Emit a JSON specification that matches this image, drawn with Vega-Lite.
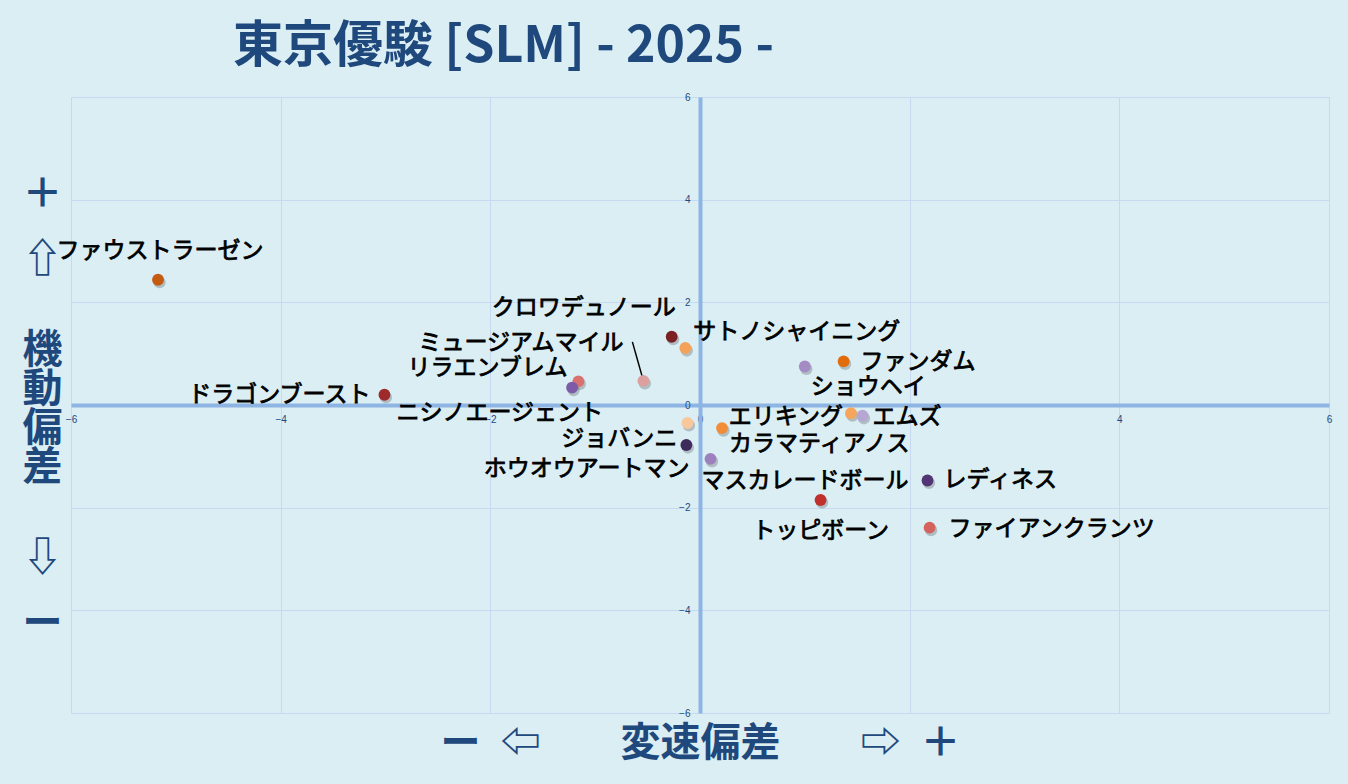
{
  "$schema": "https://vega.github.io/schema/vega-lite/v6.json",
  "width": 1258,
  "height": 616,
  "autosize": {"type": "none"},
  "padding": {"left": 71, "top": 97, "right": 19, "bottom": 71},
  "background": "#DAEEF3",
  "title": {
    "text": "東京優駿 [SLM]  - 2025 -",
    "font": "Noto Sans CJK JP",
    "fontSize": 50,
    "fontWeight": "bold",
    "color": "#1F497D",
    "anchor": "start",
    "frame": "group",
    "dx": 162,
    "offset": 20
  },
  "config": {
    "view": {"stroke": null},
    "axis": {
      "ticks": false,
      "labelFlush": false,
      "gridColor": "#C6D9F1",
      "gridWidth": 1,
      "domainColor": "#8EB4E3",
      "domainWidth": 4,
      "labelFont": "Liberation Sans",
      "labelFontSize": 10,
      "labelColor": "#1F497D",
      "titleFont": "Noto Sans CJK JP",
      "titleFontWeight": "bold",
      "titleFontSize": 40,
      "titleColor": "#1F497D"
    }
  },
  "data": {
    "values": [
      {"name": "ファウストラーゼン", "変速偏差": -5.17, "機動偏差": 2.44},
      {"name": "ドラゴンブースト", "変速偏差": -3.01, "機動偏差": 0.2},
      {"name": "クロワデュノール", "変速偏差": -0.27, "機動偏差": 1.33},
      {"name": "サトノシャイニング", "変速偏差": -0.14, "機動偏差": 1.11},
      {"name": "ミュージアムマイル", "変速偏差": -0.54, "機動偏差": 0.47},
      {"name": "リラエンブレム", "変速偏差": -1.16, "機動偏差": 0.46},
      {"name": "ニシノエージェント", "変速偏差": -1.22, "機動偏差": 0.34},
      {"name": "ホウオウアートマン", "変速偏差": -0.12, "機動偏差": -0.35},
      {"name": "ジョバンニ", "変速偏差": -0.13, "機動偏差": -0.78},
      {"name": "カラマティアノス", "変速偏差": 0.21, "機動偏差": -0.45},
      {"name": "マスカレードボール", "変速偏差": 0.1, "機動偏差": -1.05},
      {"name": "ショウヘイ", "変速偏差": 1.0, "機動偏差": 0.75},
      {"name": "ファンダム", "変速偏差": 1.37, "機動偏差": 0.85},
      {"name": "エリキング", "変速偏差": 1.44, "機動偏差": -0.16},
      {"name": "エムズ", "変速偏差": 1.55, "機動偏差": -0.21},
      {"name": "レディネス", "変速偏差": 2.17, "機動偏差": -1.47},
      {"name": "トッピボーン", "変速偏差": 1.15, "機動偏差": -1.85},
      {"name": "ファイアンクランツ", "変速偏差": 2.19, "機動偏差": -2.39}
    ]
  },
  "encoding": {
    "x": {
      "field": "変速偏差",
      "type": "quantitative",
      "scale": {"domain": [-6, 6], "nice": false, "zero": false},
      "axis": {
        "values": [-6, -4, -2, 0, 2, 4, 6],
        "offset": -308,
        "labelPadding": 9,
        "title": "ー\u2002⇦　　変速偏差　　⇨\u2002＋",
        "titleX": 629,
        "titleY": 338,
        "titleAlign": "center",
        "titleBaseline": "middle"
      }
    },
    "y": {
      "field": "機動偏差",
      "type": "quantitative",
      "scale": {"domain": [-6, 6], "nice": false, "zero": false},
      "axis": {
        "values": [-6, -4, -2, 0, 2, 4, 6],
        "offset": -629,
        "labelPadding": 10,
        "title": ["＋", "\u2800", "\u2800", "\u2800", "\u2800", "⇧", "\u2800", "\u2800", "\u2800", "\u2800", "\u2800", "\u2800", "機", "\u2800", "\u2800", "動", "\u2800", "\u2800", "偏", "\u2800", "\u2800", "差", "\u2800", "\u2800", "\u2800", "\u2800", "\u2800", "\u2800", "⇩", "\u2800", "\u2800", "\u2800", "\u2800", "ー"],
        "titleAngle": 0,
        "titleLineHeight": 13,
        "titleX": -658,
        "titleY": 77,
        "titleAlign": "center",
        "titleBaseline": "top"
      }
    }
  },
  "layer": [
    {
      "transform": [{"filter": "datum.name === 'ミュージアムマイル'"}],
      "mark": {"type": "rule", "color": "#000000", "strokeWidth": 1.5, "x2Offset": -11, "y2Offset": -39},
      "encoding": {
        "x2": {"field": "変速偏差"},
        "y2": {"field": "機動偏差"}
      }
    },
    {
      "mark": {"type": "circle", "size": 150, "color": "#000000", "opacity": 0.2, "xOffset": 1.5, "yOffset": 2.5}
    },
    {
      "mark": {"type": "circle", "size": 140, "opacity": 1},
      "encoding": {
        "color": {
          "field": "name",
          "type": "nominal",
          "legend": null,
          "scale": {
            "domain": ["ファウストラーゼン", "ドラゴンブースト", "クロワデュノール", "サトノシャイニング", "ミュージアムマイル", "リラエンブレム", "ニシノエージェント", "ホウオウアートマン", "ジョバンニ", "カラマティアノス", "マスカレードボール", "ショウヘイ", "ファンダム", "エリキング", "エムズ", "レディネス", "トッピボーン", "ファイアンクランツ"],
            "range": ["#C55A11", "#9E2A2B", "#7B2121", "#F4A259", "#DDA0A0", "#D9716E", "#7D5BA6", "#F9C79C", "#3F2B5B", "#F28C38", "#9D80BE", "#A48BC4", "#E26B0A", "#F6A55C", "#B6A6D2", "#533474", "#C0312E", "#D4625F"]
          }
        }
      }
    },
    {
      "transform": [{"filter": "datum.name === 'ファウストラーゼン'"}],
      "mark": {"type": "text", "font": "Noto Sans CJK JP", "fontSize": 23, "color": "#000000", "stroke": "#000000", "strokeWidth": 0.8, "baseline": "middle", "align": "center", "dx": 2, "dy": -29},
      "encoding": {"text": {"field": "name"}}
    },
    {
      "transform": [{"filter": "datum.name === 'ドラゴンブースト'"}],
      "mark": {"type": "text", "font": "Noto Sans CJK JP", "fontSize": 23, "color": "#000000", "stroke": "#000000", "strokeWidth": 0.8, "baseline": "middle", "align": "right", "dx": -14, "dy": 0},
      "encoding": {"text": {"field": "name"}}
    },
    {
      "transform": [{"filter": "datum.name === 'クロワデュノール'"}],
      "mark": {"type": "text", "font": "Noto Sans CJK JP", "fontSize": 23, "color": "#000000", "stroke": "#000000", "strokeWidth": 0.8, "baseline": "middle", "align": "right", "dx": 4, "dy": -29},
      "encoding": {"text": {"field": "name"}}
    },
    {
      "transform": [{"filter": "datum.name === 'サトノシャイニング'"}],
      "mark": {"type": "text", "font": "Noto Sans CJK JP", "fontSize": 23, "color": "#000000", "stroke": "#000000", "strokeWidth": 0.8, "baseline": "middle", "align": "left", "dx": 8, "dy": -16},
      "encoding": {"text": {"field": "name"}}
    },
    {
      "transform": [{"filter": "datum.name === 'ミュージアムマイル'"}],
      "mark": {"type": "text", "font": "Noto Sans CJK JP", "fontSize": 23, "color": "#000000", "stroke": "#000000", "strokeWidth": 0.8, "baseline": "middle", "align": "right", "dx": -20, "dy": -38},
      "encoding": {"text": {"field": "name"}}
    },
    {
      "transform": [{"filter": "datum.name === 'リラエンブレム'"}],
      "mark": {"type": "text", "font": "Noto Sans CJK JP", "fontSize": 23, "color": "#000000", "stroke": "#000000", "strokeWidth": 0.8, "baseline": "middle", "align": "right", "dx": -11, "dy": -13},
      "encoding": {"text": {"field": "name"}}
    },
    {
      "transform": [{"filter": "datum.name === 'ニシノエージェント'"}],
      "mark": {"type": "text", "font": "Noto Sans CJK JP", "fontSize": 23, "color": "#000000", "stroke": "#000000", "strokeWidth": 0.8, "baseline": "middle", "align": "right", "dx": 31, "dy": 25},
      "encoding": {"text": {"field": "name"}}
    },
    {
      "transform": [{"filter": "datum.name === 'ホウオウアートマン'"}],
      "mark": {"type": "text", "font": "Noto Sans CJK JP", "fontSize": 23, "color": "#000000", "stroke": "#000000", "strokeWidth": 0.8, "baseline": "middle", "align": "right", "dx": 2, "dy": 46},
      "encoding": {"text": {"field": "name"}}
    },
    {
      "transform": [{"filter": "datum.name === 'ジョバンニ'"}],
      "mark": {"type": "text", "font": "Noto Sans CJK JP", "fontSize": 23, "color": "#000000", "stroke": "#000000", "strokeWidth": 0.8, "baseline": "middle", "align": "right", "dx": -9, "dy": -6},
      "encoding": {"text": {"field": "name"}}
    },
    {
      "transform": [{"filter": "datum.name === 'カラマティアノス'"}],
      "mark": {"type": "text", "font": "Noto Sans CJK JP", "fontSize": 23, "color": "#000000", "stroke": "#000000", "strokeWidth": 0.8, "baseline": "middle", "align": "left", "dx": 7, "dy": 16},
      "encoding": {"text": {"field": "name"}}
    },
    {
      "transform": [{"filter": "datum.name === 'マスカレードボール'"}],
      "mark": {"type": "text", "font": "Noto Sans CJK JP", "fontSize": 23, "color": "#000000", "stroke": "#000000", "strokeWidth": 0.8, "baseline": "middle", "align": "left", "dx": -9, "dy": 22},
      "encoding": {"text": {"field": "name"}}
    },
    {
      "transform": [{"filter": "datum.name === 'ショウヘイ'"}],
      "mark": {"type": "text", "font": "Noto Sans CJK JP", "fontSize": 23, "color": "#000000", "stroke": "#000000", "strokeWidth": 0.8, "baseline": "middle", "align": "left", "dx": 6, "dy": 20},
      "encoding": {"text": {"field": "name"}}
    },
    {
      "transform": [{"filter": "datum.name === 'ファンダム'"}],
      "mark": {"type": "text", "font": "Noto Sans CJK JP", "fontSize": 23, "color": "#000000", "stroke": "#000000", "strokeWidth": 0.8, "baseline": "middle", "align": "left", "dx": 17, "dy": 1},
      "encoding": {"text": {"field": "name"}}
    },
    {
      "transform": [{"filter": "datum.name === 'エリキング'"}],
      "mark": {"type": "text", "font": "Noto Sans CJK JP", "fontSize": 23, "color": "#000000", "stroke": "#000000", "strokeWidth": 0.8, "baseline": "middle", "align": "right", "dx": -8, "dy": 4},
      "encoding": {"text": {"field": "name"}}
    },
    {
      "transform": [{"filter": "datum.name === 'エムズ'"}],
      "mark": {"type": "text", "font": "Noto Sans CJK JP", "fontSize": 23, "color": "#000000", "stroke": "#000000", "strokeWidth": 0.8, "baseline": "middle", "align": "left", "dx": 10, "dy": 1},
      "encoding": {"text": {"field": "name"}}
    },
    {
      "transform": [{"filter": "datum.name === 'レディネス'"}],
      "mark": {"type": "text", "font": "Noto Sans CJK JP", "fontSize": 23, "color": "#000000", "stroke": "#000000", "strokeWidth": 0.8, "baseline": "middle", "align": "left", "dx": 16, "dy": 0},
      "encoding": {"text": {"field": "name"}}
    },
    {
      "transform": [{"filter": "datum.name === 'トッピボーン'"}],
      "mark": {"type": "text", "font": "Noto Sans CJK JP", "fontSize": 23, "color": "#000000", "stroke": "#000000", "strokeWidth": 0.8, "baseline": "middle", "align": "center", "dx": 0, "dy": 31},
      "encoding": {"text": {"field": "name"}}
    },
    {
      "transform": [{"filter": "datum.name === 'ファイアンクランツ'"}],
      "mark": {"type": "text", "font": "Noto Sans CJK JP", "fontSize": 23, "color": "#000000", "stroke": "#000000", "strokeWidth": 0.8, "baseline": "middle", "align": "left", "dx": 19, "dy": 1},
      "encoding": {"text": {"field": "name"}}
    }
  ]
}
